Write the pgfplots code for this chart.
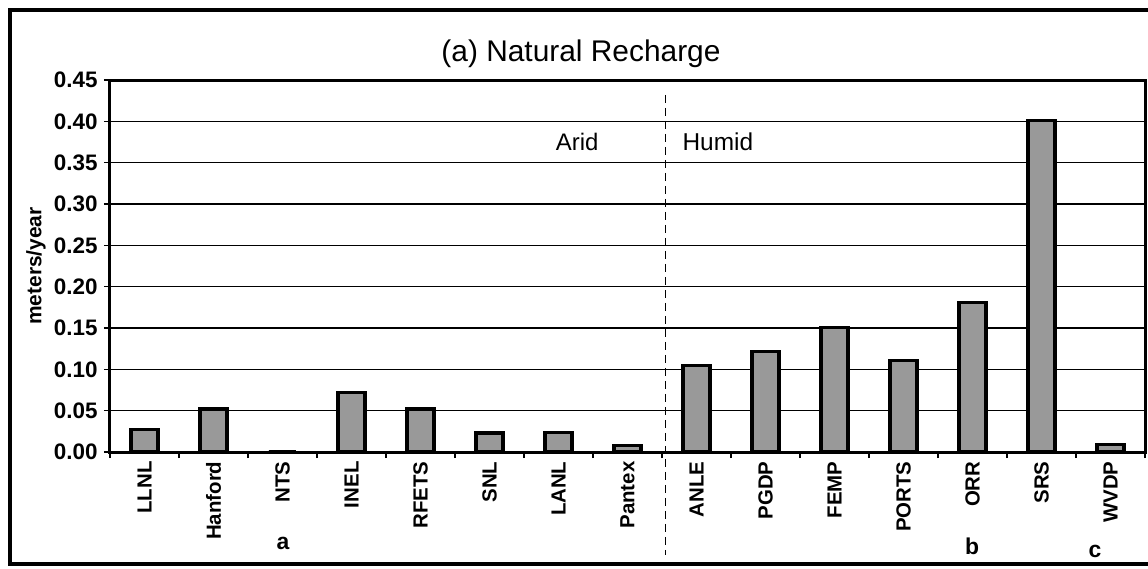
\documentclass[border=0pt]{standalone}
\usepackage{pgfplots}
\pgfplotsset{compat=1.18}
\usepackage{fontspec}
\setmainfont{Liberation Sans}
\begin{document}
\begin{tikzpicture}
\useasboundingbox (-110bp,-117bp) rectangle (1038bp,452bp);
\draw[line width=4.5bp] (1045bp,442bp) -- (-100bp,442bp) -- (-100bp,-112bp) -- (1045bp,-112bp);
\begin{axis}[
  at={(0,0)}, anchor=south west,
  scale only axis, width=1035bp, height=372bp,
  xmin=-0.5, xmax=14.5, ymin=0, ymax=0.45,
  axis line style={line width=3bp},
  every outer x axis line/.append style={line width=3bp},
  every outer y axis line/.append style={line width=3bp},
  clip=false,
  xtick={0,...,14},
  xticklabels={LLNL,Hanford,NTS,INEL,RFETS,SNL,LANL,Pantex,ANLE,PGDP,FEMP,PORTS,ORR,SRS,WVDP},
  major x tick style={draw=none},
  minor xtick={-0.5,0.5,...,14.5},
  minor tick length=6bp,
  minor x tick style={line width=1.2bp,black},
  ytick={0,0.05,...,0.45},
  major tick length=6bp,
  major y tick style={line width=1.2bp,black},
  tick align=outside,
  xtick pos=bottom, ytick pos=left,
  ymajorgrids,
  major grid style={line width=1.2bp,black},
  /pgf/number format/fixed,
  /pgf/number format/fixed zerofill,
  /pgf/number format/precision=2,
  /pgf/number format/assume math mode=true,
  yticklabel style={font=\bfseries\fontsize{22.5}{22.5}\selectfont, xshift=-3bp},
  xticklabel style={font=\bfseries\fontsize{20.5}{20.5}\selectfont, rotate=90, anchor=east},
]
\addplot[ybar, bar width=27bp, fill=black!40, draw=black, /tikz/line width=3.2bp] coordinates {
  (0,0.027) (1,0.052) (2,0.0) (3,0.072) (4,0.052) (5,0.023) (6,0.024) (7,0.008)
  (8,0.105) (9,0.122) (10,0.151) (11,0.111) (12,0.181) (13,0.401) (14,0.009)
};
\draw[line width=1.3bp, dash pattern=on 8bp off 5bp] (axis cs:7.55,0.432) -- (axis cs:7.55,-0.125);
\node[font=\fontsize{24}{24}\selectfont] at (axis cs:6.27,0.375) {Arid};
\node[font=\fontsize{24.5}{24.5}\selectfont] at (axis cs:8.31,0.375) {Humid};
\end{axis}
\node[font=\fontsize{30}{30}\selectfont] at (471bp,398bp) {(a) Natural Recharge};
\node[rotate=90, font=\bfseries\fontsize{21}{21}\selectfont] at (-74bp,186bp) {meters/year};
\node[font=\bfseries\fontsize{23}{23}\selectfont] at (173bp,-91bp) {a};
\node[font=\bfseries\fontsize{23}{23}\selectfont] at (862bp,-94bp) {b};
\node[font=\bfseries\fontsize{23}{23}\selectfont] at (985bp,-99bp) {c};
\end{tikzpicture}
\end{document}
